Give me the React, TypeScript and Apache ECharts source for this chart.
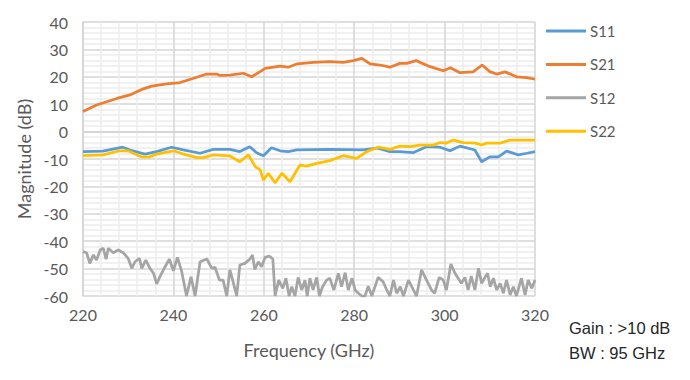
import React, { useEffect, useRef } from "react";
import * as echarts from "echarts";

type Pt = [number, number];

const seriesNames = ["S11", "S21", "S12", "S22"];
const seriesColors = ["#5B9BD5", "#ED7D31", "#A5A5A5", "#FFC000"];

const s11: Pt[] = [
  [220, -7.3], [224.4, -7.1], [228.8, -5.7], [230.4, -6.7], [233.7, -8.2], [236.3, -7.3],
  [239.6, -5.7], [242.2, -6.7], [245.9, -7.9], [248.8, -6.5], [252.5, -6.5], [254.7, -7.3],
  [256.9, -5.5], [258.4, -7.7], [259.9, -8.8], [261.7, -5.9], [263.6, -7], [265.4, -7.3],
  [267.3, -6.7], [274.6, -6.5], [282, -6.7], [285, -6], [287.9, -7.3], [290.1, -7.3],
  [293, -7.7], [296, -5.5], [299, -5.7], [301.2, -7], [303.4, -5.3], [306.7, -6.7],
  [308.2, -11], [310, -9.2], [311.9, -9.2], [313.7, -7.1], [316.3, -8.5], [318.2, -7.9], [320, -7.3],
];

const s21: Pt[] = [
  [220, 7.3], [223, 9.7], [227.5, 12.1], [230.4, 13.4], [233, 15.4], [235.2, 16.6],
  [238.5, 17.4], [241.5, 17.9], [244.3, 19.4], [247.4, 21], [249.6, 21], [250.3, 20.5],
  [252.5, 20.6], [255.5, 21.3], [257.3, 20], [259.2, 21.9], [260.3, 23.1], [263.6, 23.9],
  [265.4, 23.5], [267.3, 24.7], [271, 25.3], [274.6, 25.5], [277.6, 25.3], [279.8, 25.9],
  [281.7, 26.7], [283.5, 24.7], [285.7, 24.3], [287.9, 23.5], [290.1, 24.9], [291.6, 24.9],
  [293.7, 25.9], [296.8, 23.7], [299.7, 22.2], [301.3, 23.3], [303.4, 21.5], [306.3, 21.8],
  [308.3, 24.3], [310, 21.9], [311.5, 21], [313.4, 21.8], [315.9, 20], [318.2, 19.7], [320, 19.1],
];

const s12: Pt[] = [
  [220, -43.8], [220.8, -44.2], [221.5, -48.1], [222.3, -45], [223, -46.9], [223.8, -43.2],
  [224.5, -42.6], [225.1, -46.6], [225.6, -42.6], [226.7, -44.2], [227.8, -43.2], [228.9, -44.2],
  [230, -46.3], [230.8, -49.9], [231.5, -47.5], [232.5, -46.3], [233, -49.9], [233.9, -46.9],
  [234.8, -49.9], [235.6, -51.7], [236.3, -55.6], [237, -53], [238.1, -49.5], [239.1, -46.6],
  [240, -50.8], [240.9, -45.9], [241.8, -50.8], [242.9, -60], [243.9, -53], [244.8, -60],
  [245.9, -47.5], [247.4, -46.5], [248.5, -49.9], [249.2, -49.5], [250.2, -54.2], [251, -54.2],
  [251.8, -60], [252.5, -50.5], [253.3, -55.4], [254, -60], [254.7, -48.7], [255.8, -48.1],
  [256.9, -46.6], [257.5, -45], [258, -50.3], [258.8, -47.5], [259.5, -49.3], [260.3, -45.9],
  [261.2, -45.4], [262, -46.5], [262.5, -60], [263.3, -54.2], [264.2, -57.2], [264.9, -53.5],
  [265.6, -60], [266.2, -56.6], [266.9, -60], [267.6, -53.2], [268.4, -57.8], [269.1, -54.2],
  [269.6, -60], [270.2, -53.5], [270.9, -57.8], [271.7, -53.2], [272.3, -60], [273, -56.6],
  [273.9, -54.2], [274.6, -53.5], [275.5, -57.8], [276.5, -51.7], [277.2, -56.6], [278, -51.5],
  [278.7, -57.8], [279.5, -53.5], [280.2, -57.8], [280.9, -59], [281.7, -60], [282.4, -60],
  [283.1, -56.4], [283.9, -60], [285.3, -53.2], [286.4, -54.8], [287.2, -57.8], [287.9, -60],
  [288.7, -54.2], [289.4, -59], [290.2, -56.6], [290.9, -60], [292, -54.2], [293.1, -57.8],
  [293.8, -60], [294.9, -50.5], [296, -54.2], [297.1, -57.8], [297.8, -59], [298.8, -53.2],
  [299.7, -54.2], [300.4, -57.8], [301.4, -48.3], [302.3, -51.7], [303, -53.5], [303.7, -55.4],
  [304.5, -53.2], [305.2, -57.8], [305.9, -52.7], [306.7, -57.8], [307.5, -49.9], [308.2, -55.4],
  [309, -53], [309.5, -51.7], [310.1, -56.6], [310.8, -53.5], [311.5, -57.8], [312.3, -55.4],
  [313, -59], [313.7, -54.2], [314.5, -59.6], [315.2, -56.6], [315.9, -60], [317, -53.5],
  [317.8, -59.6], [318.5, -54.2], [319.3, -57.2], [320, -54.2],
];

const s22: Pt[] = [
  [220, -8.8], [224.4, -8.5], [228.1, -7], [229.9, -7], [232.9, -9.2], [234.8, -9.2],
  [236.3, -8.2], [240, -7], [242.2, -8.2], [245.2, -9.5], [246.6, -9.5], [248.8, -8.5],
  [252.5, -8.9], [254.7, -11], [256.6, -8.5], [258.1, -12.8], [259.2, -14], [259.9, -17.7],
  [261, -15.2], [262.5, -18.7], [264, -15.2], [265.8, -18.3], [268, -12.2], [269.5, -12.6],
  [271.7, -11.6], [274.6, -10.6], [277.6, -8.8], [280.5, -9.8], [282.8, -7.3], [285.3, -5.7],
  [287.9, -6.5], [290.1, -5.3], [292.3, -5.5], [294.5, -4.9], [297.5, -4.9], [299, -4],
  [300.4, -4.2], [301.9, -3.1], [304.1, -4], [306.8, -4.2], [308.2, -4.9], [309.3, -4.2],
  [312.3, -4.2], [314.5, -3.1], [320, -3.1],
];

const seriesData = [s11, s21, s12, s22];
const noteLines = ["Gain : >10 dB", "BW : 95 GHz"];

const FONT = "Lato, 'Noto Sans', sans-serif";
const TEXT = "#595959";

export default function App() {
  const ref = useRef<HTMLDivElement>(null);
  useEffect(() => {
    if (!ref.current) return;
    const chart = echarts.init(ref.current, undefined, { renderer: "svg" });
    chart.setOption({
      animation: false,
      backgroundColor: "#ffffff",
      grid: { left: 83, right: 155, top: 22, bottom: 84, containLabel: false },
      legend: {
        orient: "vertical",
        left: 541,
        top: 18.5,
        itemWidth: 40,
        itemHeight: 3,
        itemGap: 18.4,
        icon: "rect",
        data: seriesNames,
        textStyle: { color: TEXT, fontSize: 15, lineHeight: 15, fontFamily: FONT, padding: [0, 0, 0, -1] },
      },
      xAxis: {
        type: "value",
        min: 220,
        max: 320,
        interval: 20,
        name: "Frequency (GHz)",
        nameLocation: "middle",
        nameGap: 45,
        nameTextStyle: { color: TEXT, fontSize: 18, fontFamily: FONT },
        axisLine: { show: true, lineStyle: { color: "#d4d4d4", width: 1.5 } },
        axisTick: { show: false },
        axisLabel: { color: TEXT, fontSize: 16, fontFamily: FONT, margin: 10 },
        splitLine: { show: true, lineStyle: { color: "#d4d4d4", width: 1.5 } },
        minorTick: { show: false, splitNumber: 5 },
        minorSplitLine: { show: true, lineStyle: { color: "#ececec", width: 1.5 } },
      },
      yAxis: {
        type: "value",
        min: -60,
        max: 40,
        interval: 10,
        name: "Magnitude (dB)",
        nameLocation: "middle",
        nameGap: 46,
        nameTextStyle: { color: TEXT, fontSize: 18, fontFamily: FONT },
        axisLine: { show: true, lineStyle: { color: "#d4d4d4", width: 1.5 } },
        axisTick: { show: false },
        axisLabel: { color: TEXT, fontSize: 16, fontFamily: FONT, margin: 15 },
        splitLine: { show: true, lineStyle: { color: "#d4d4d4", width: 1.5 } },
        minorTick: { show: false, splitNumber: 5 },
        minorSplitLine: { show: true, lineStyle: { color: "#ececec", width: 1.5 } },
      },
      graphic: noteLines.map((t, i) => ({
        type: "text",
        left: 569,
        top: 319 + i * 25,
        style: { text: t, fill: "#262626", fontSize: 16.5, fontFamily: "'Liberation Sans', Arial, sans-serif" },
      })),
      series: seriesNames.map((name, i) => ({
        name,
        type: "line",
        data: seriesData[i],
        symbol: "none",
        showSymbol: false,
        clip: true,
        lineStyle: { color: seriesColors[i], width: 2.75 },
        itemStyle: { color: seriesColors[i] },
      })),
    });
    return () => chart.dispose();
  }, []);
  return <div ref={ref} style={{ width: 690, height: 380, position: "absolute", left: 0, top: 0 }} />;
}
